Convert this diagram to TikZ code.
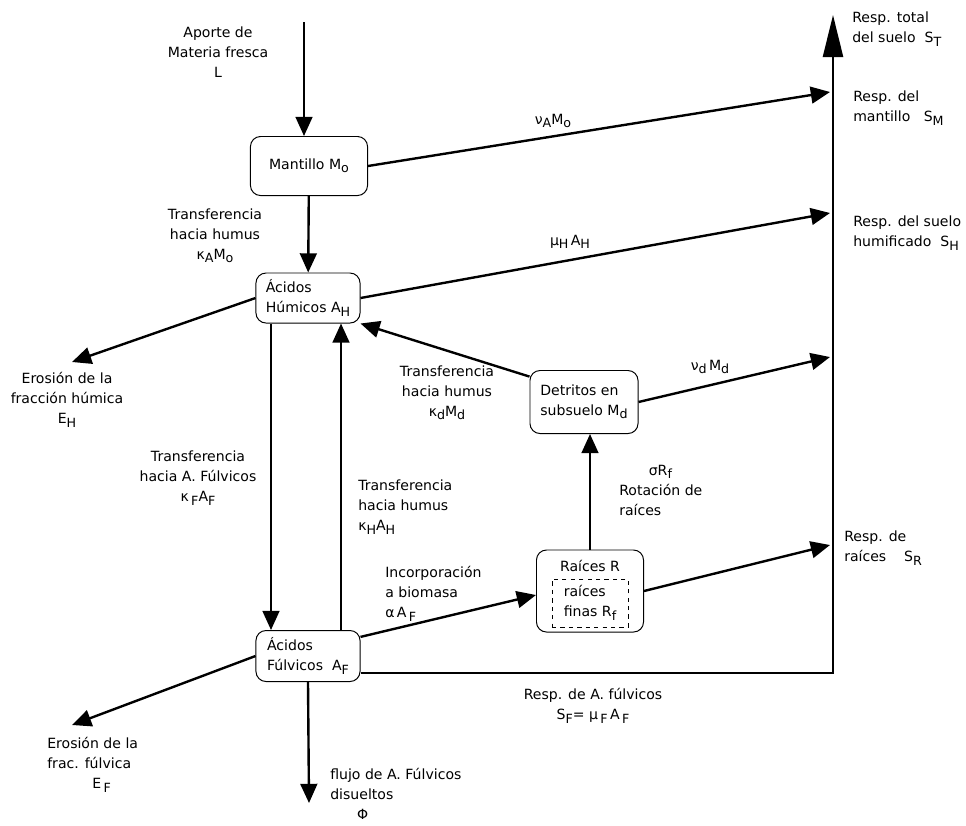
\documentclass[tikz,border=0pt]{standalone}
\usepackage{fontspec}
\setmainfont{DejaVu Sans}
\usetikzlibrary{arrows.meta}
\newcommand{\low}[1]{\raisebox{-.45ex}{\small #1}}

\begin{document}
\begin{tikzpicture}[x=0.025cm, y=-0.025cm,
    font=\fontsize{10}{14.2}\selectfont,
    box/.style={draw, rectangle, rounded corners=0.25cm, line width=0.7pt, align=left, inner sep=3pt},
    flow/.style={line width=1.7pt, -{Triangle[length=0.48cm, width=0.42cm]}},
    txt/.style={align=center, inner sep=0pt}]
    \useasboundingbox (0,0) rectangle (966,825);

    % Nodes
    \node [box, minimum width=2.925cm, minimum height=1.475cm, align=center] (mantillo) at (309,166) {Mantillo M\low{o}};
    \node [box, minimum width=2.6cm, minimum height=1.25cm] (humicos) at (308,298) {Ácidos\\Húmicos A\low{H}};
    \node [box, minimum width=2.6cm, minimum height=1.275cm] (fulvicos) at (308,656) {Ácidos\\Fúlvicos\ \ A\low{F}};
    \node [box, minimum width=2.7cm, minimum height=1.575cm] (detritos) at (584,402) {Detritos en\\subsuelo M\low{d}};
    \node [box, minimum width=2.675cm, minimum height=2.05cm] (raices) at (590,591) {};
    \node [txt] (raicesR) at (590,566) {Raíces R};
    \node [draw, dashed, line width=0.7pt, minimum width=1.9cm, minimum height=1.2cm, align=left] (finas) at (590,603) {raíces\\finas R\low{f}};

    % Ends of the flows
    \coordinate (aporte) at (304,22);
    \coordinate (ST) at (833,15);
    \coordinate (SM) at (830,92);
    \coordinate (SH) at (830,213);
    \coordinate (Sd) at (830,357);
    \coordinate (SR) at (830,545);
    \coordinate (EH) at (72,362);
    \coordinate (EF) at (72,725);
    \coordinate (phi) at (309,803);

    % Arrows
    \draw [flow] (aporte) -- (aporte |- mantillo.north);
    \draw [flow] (mantillo) -- (humicos);
    \draw [flow] (mantillo.east) -- (SM);
    \draw [flow] (humicos.east) -- (SH);
    \draw [flow] (humicos.west) -- (EH);
    \draw [flow] ([xshift=-0.925cm]humicos.south) -- ([xshift=-0.925cm]fulvicos.north);
    \draw [flow] ([xshift=0.825cm]fulvicos.north) -- ([xshift=0.825cm]humicos.south);
    \draw [flow] (detritos.155) -- (humicos.south east);
    \draw [flow] (detritos.east) -- (Sd);
    \draw [flow] (raices.north) -- (raices.north |- detritos.south);
    \draw [flow] (raices.east) -- (SR);
    \draw [flow] (fulvicos.20) -- ([yshift=-0.1cm]raices.west);
    \draw [flow] (fulvicos.west) -- (EF);
    \draw [flow] (fulvicos.south) -- (phi);
    \draw [line width=1.7pt, -{Triangle[length=1.05cm, width=0.5cm]}] (fulvicos.-18) -| (ST);

    % Labels
    \node [txt] (laporte) at (218,52) {Aporte de\\Materia fresca\\L};
    \node [txt] (lkA) at (215,236) {Transferencia\\hacia humus\\κ\low{A}M\low{o}};
    \node [txt] (lnuA) at (553,121) {ν\low{A}M\low{o}};
    \node [txt] (lmuH) at (570,242) {μ\low{H}\,A\low{H}};
    \node [txt] (lnud) at (710,367) {ν\low{d}\,M\low{d}};
    \node [txt] (lEH) at (67,400) {Erosión de la\\fracción húmica\\E\low{H}};
    \node [txt] (lkF) at (198,478) {Transferencia\\hacia A. Fúlvicos\\κ\,\low{F}A\low{F}};
    \node [txt, anchor=west, align=left] (lkH) at (358,507) {Transferencia\\hacia humus\\κ\low{H}A\low{H}};
    \node [txt] (lkd) at (447,393) {Transferencia\\hacia humus\\κ\low{d}M\low{d}};
    \node [txt, anchor=west, align=left] (lsigma) at (619,490) {\hspace*{2.1em}σR\low{f}\\Rotación de\\raíces};
    \node [txt, anchor=west, align=left] (lalpha) at (385,594) {Incorporación\\a biomasa\\α\,A\,\low{F}};
    \node [txt] (lSF) at (593,706) {Resp. de A. fúlvicos\\S\low{F}= μ\,\low{F}\,A\,\low{F}};
    \node [txt, anchor=west, align=left] (lEF) at (47,765) {Erosión de la\\frac. fúlvica\\\hspace*{3.2em}E\,\low{F}};
    \node [txt, anchor=west, align=left] (lphi) at (330,794) {flujo de A. Fúlvicos\\disueltos\\\hspace*{1.9em}Φ};
    \node [txt, anchor=west, align=left] (lST) at (852,29) {Resp. total\\del suelo\ \ S\low{T}};
    \node [txt, anchor=west, align=left] (lSM) at (853,108) {Resp. del\\mantillo\ \ \ S\low{M}};
    \node [txt, anchor=west, align=left] (lSH) at (853,233) {Resp. del suelo\\humificado\ \ S\low{H}};
    \node [txt, anchor=west, align=left] (lSR) at (844,548) {Resp. de\\raíces\ \ \ \ S\low{R}};
\end{tikzpicture}
\end{document}
